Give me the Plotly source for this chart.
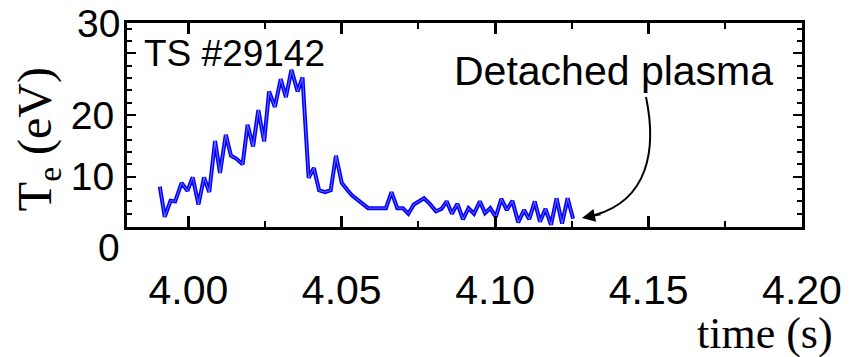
import plotly.graph_objects as go

# Thomson scattering electron temperature, shot #29142
time_s = [3.9907, 3.9923, 3.9942, 3.9957, 3.9978, 3.9997, 4.0014, 4.0033, 4.0051, 4.0068,
          4.0087, 4.0103, 4.0122, 4.0139, 4.0157, 4.0177, 4.0193, 4.0211, 4.0228, 4.0247,
          4.0263, 4.0282, 4.0301, 4.0318, 4.0336, 4.0356, 4.0372, 4.0392, 4.0409, 4.0426,
          4.0445, 4.0464, 4.0481, 4.0500, 4.0519, 4.0533, 4.0586, 4.0644, 4.0662, 4.0681,
          4.0699, 4.0717, 4.0735, 4.0768, 4.0787, 4.0807, 4.0825, 4.0842, 4.0859, 4.0877,
          4.0895, 4.0913, 4.0931, 4.0950, 4.0967, 4.0984, 4.1002, 4.1020, 4.1038, 4.1056,
          4.1075, 4.1094, 4.1111, 4.1129, 4.1146, 4.1164, 4.1182, 4.1200, 4.1218, 4.1236,
          4.1254]
te_ev = [8.4, 3.5, 6.1, 6.0, 9.0, 7.7, 9.9, 5.5, 9.9, 7.5,
         15.8, 10.6, 16.8, 13.4, 12.9, 12.0, 18.4, 14.9, 20.8, 15.7,
         23.8, 21.3, 25.8, 22.9, 27.3, 23.8, 26.1, 9.8, 11.4, 7.8,
         7.5, 7.8, 13.4, 9.0, 7.8, 7.0, 4.9, 4.9, 7.5, 4.9,
         4.9, 4.0, 5.5, 6.5, 5.6, 4.4, 4.8, 6.0, 4.0, 5.6,
         3.1, 4.9, 4.0, 6.0, 4.1, 4.9, 3.5, 6.4, 4.6, 6.1,
         2.6, 4.6, 3.1, 6.0, 2.7, 4.8, 2.2, 6.5, 2.4, 6.5,
         3.2]

x_range = [3.98, 4.20]
y_range = [1.85, 34.9]
x_ticks = [4.00, 4.05, 4.10, 4.15, 4.20]
x_ticktext = ["4.00", "4.05", "4.10", "4.15", "4.20"]
y_ticks = [10, 20, 30]
y_ticktext = ["10", "20", ""]

SANS = "Liberation Sans, Arial, sans-serif"
SERIF = "Liberation Serif, Times New Roman, serif"

fig = go.Figure()
fig.add_trace(go.Scatter(x=time_s, y=te_ev, mode="lines",
                         line=dict(color="#0000ff", width=4), hoverinfo="skip"))
fig.add_trace(go.Scatter(x=time_s, y=te_ev, mode="lines",
                         line=dict(color="white", width=0.7), opacity=0.6, hoverinfo="skip"))

axis_common = dict(showline=True, linewidth=3, linecolor="black", mirror="allticks",
                   ticks="inside", tickcolor="black", showgrid=False, zeroline=False)

fig.update_xaxes(range=x_range, tickvals=x_ticks, ticktext=x_ticktext,
                 ticklen=11, tickwidth=3, ticklabelstandoff=25,
                 tickfont=dict(family=SANS, size=41, color="black"),
                 minor=dict(dtick=0.025, tick0=4.0, ticks="inside", ticklen=6,
                            tickwidth=2, tickcolor="black", showgrid=False),
                 **axis_common)
fig.update_yaxes(range=y_range, tickvals=y_ticks, ticktext=y_ticktext,
                 ticklen=9, tickwidth=2, ticklabelstandoff=2,
                 tickfont=dict(family=SANS, size=39, color="black"),
                 minor=dict(dtick=2, tick0=0, ticks="inside", ticklen=5,
                            tickwidth=2, tickcolor="black", showgrid=False),
                 **axis_common)

annotations = [
    dict(text="30", x=-0.008, y=1.0, xref="paper", yref="paper", xanchor="right",
         yanchor="middle", showarrow=False, font=dict(family=SANS, size=39, color="black")),
    dict(text="0", x=-0.008, y=-0.1, xref="paper", yref="paper", xanchor="right",
         yanchor="middle", showarrow=False, font=dict(family=SANS, size=39, color="black")),
    dict(text="T<sub>e</sub> (eV)", x=-0.132, y=0.43, xref="paper", yref="paper",
         textangle=-90, xanchor="center", yanchor="middle", showarrow=False,
         font=dict(family=SERIF, size=48, color="black")),
    dict(text="time (s)", x=1.049, y=-0.52, xref="paper", yref="paper", xanchor="right",
         yanchor="middle", showarrow=False, font=dict(family=SERIF, size=44, color="black")),
    dict(text="TS #29142", x=0.022, y=0.85, xref="paper", yref="paper", xanchor="left",
         yanchor="middle", showarrow=False, font=dict(family=SANS, size=37, color="black")),
    dict(text="Detached plasma", x=0.481, y=0.765, xref="paper", yref="paper",
         xanchor="left", yanchor="middle", showarrow=False,
         font=dict(family=SANS, size=41, color="black")),
    # arrowhead at the end of the curved pointer
    dict(text="", x=0.6741, y=0.0441, xref="paper", yref="paper", showarrow=True,
         ax=20, ay=-4, axref="pixel", ayref="pixel", arrowhead=2, arrowsize=1.3,
         arrowwidth=2, arrowcolor="black", standoff=0),
]

shapes = [
    dict(type="path", xref="paper", yref="paper",
         path="M 0.7689,0.6373 C 0.7852,0.3775 0.7719,0.1324 0.6933,0.0588",
         line=dict(color="black", width=2)),
]

fig.update_layout(width=851, height=357, margin=dict(l=127, r=49, t=23, b=130, autoexpand=False),
                  paper_bgcolor="white", plot_bgcolor="white", showlegend=False,
                  annotations=annotations, shapes=shapes)

fig.write_html("out.html")
